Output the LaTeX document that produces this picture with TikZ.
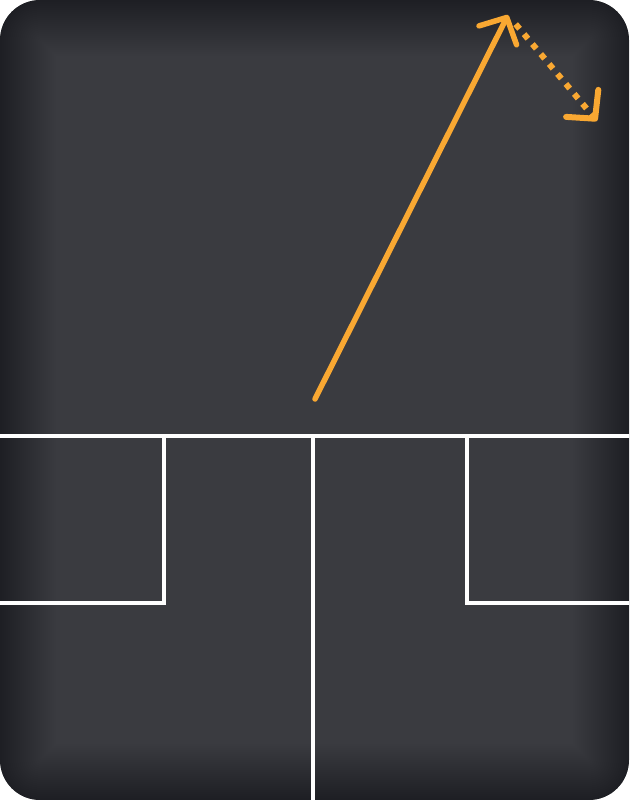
\documentclass[tikz,border=0pt]{standalone}
\usetikzlibrary{arrows.meta}
\definecolor{bgin}{HTML}{3A3B40}
\definecolor{arr}{HTML}{F9A832}
\tikzset{
  wall/.style={draw=white, line width=3.5pt, line cap=rect, line join=miter},
  vec/.style={draw=arr, line width=5.5pt, line cap=round,
    -{Straight Barb[length=20pt,width=42pt,line cap=round,line join=round]}},
  dotvec/.style={draw=arr, line width=6pt, dash pattern=on 6pt off 7pt,
    -{Straight Barb[length=20pt,width=42pt,line cap=round,line join=round]}},
  shadowring/.style={draw=black, opacity=0.011, rounded corners=40pt}
}
\begin{document}
\begin{tikzpicture}[x=1pt,y=-1pt]
\useasboundingbox (0,0) rectangle (629,800);
\fill[white] (0,0) rectangle (629,800);
\fill[bgin, rounded corners=40pt] (0,0) rectangle (629,800);
\begin{scope}
\clip[rounded corners=40pt] (0,0) rectangle (629,800);
% soft inner shadow along the edges
\foreach \w in {4,8,...,112}
  \draw[shadowring, line width=\w pt] (0,0) rectangle (629,800);
% floor plan lines
\coordinate (l1) at (-5,436);
\coordinate (r1) at (634,436);
\coordinate (a1) at (164,436);
\coordinate (a2) at (164,603);
\coordinate (a3) at (-5,603);
\coordinate (c1) at (313,436);
\coordinate (c2) at (313,805);
\coordinate (b1) at (467,436);
\coordinate (b2) at (467,603);
\coordinate (b3) at (634,603);
\draw[wall] (l1) -- (r1);
\draw[wall] (a1) -- (a2) -- (a3);
\draw[wall] (c1) -- (c2);
\draw[wall] (b1) -- (b2) -- (b3);
\end{scope}
% arrows
\coordinate (s) at (315,399);
\coordinate (t) at (508,15);
\coordinate (d) at (597,121);
\draw[vec] (s) -- (t);
\draw[dotvec, shorten <=12pt] (t) -- (d);
\end{tikzpicture}
\end{document}
